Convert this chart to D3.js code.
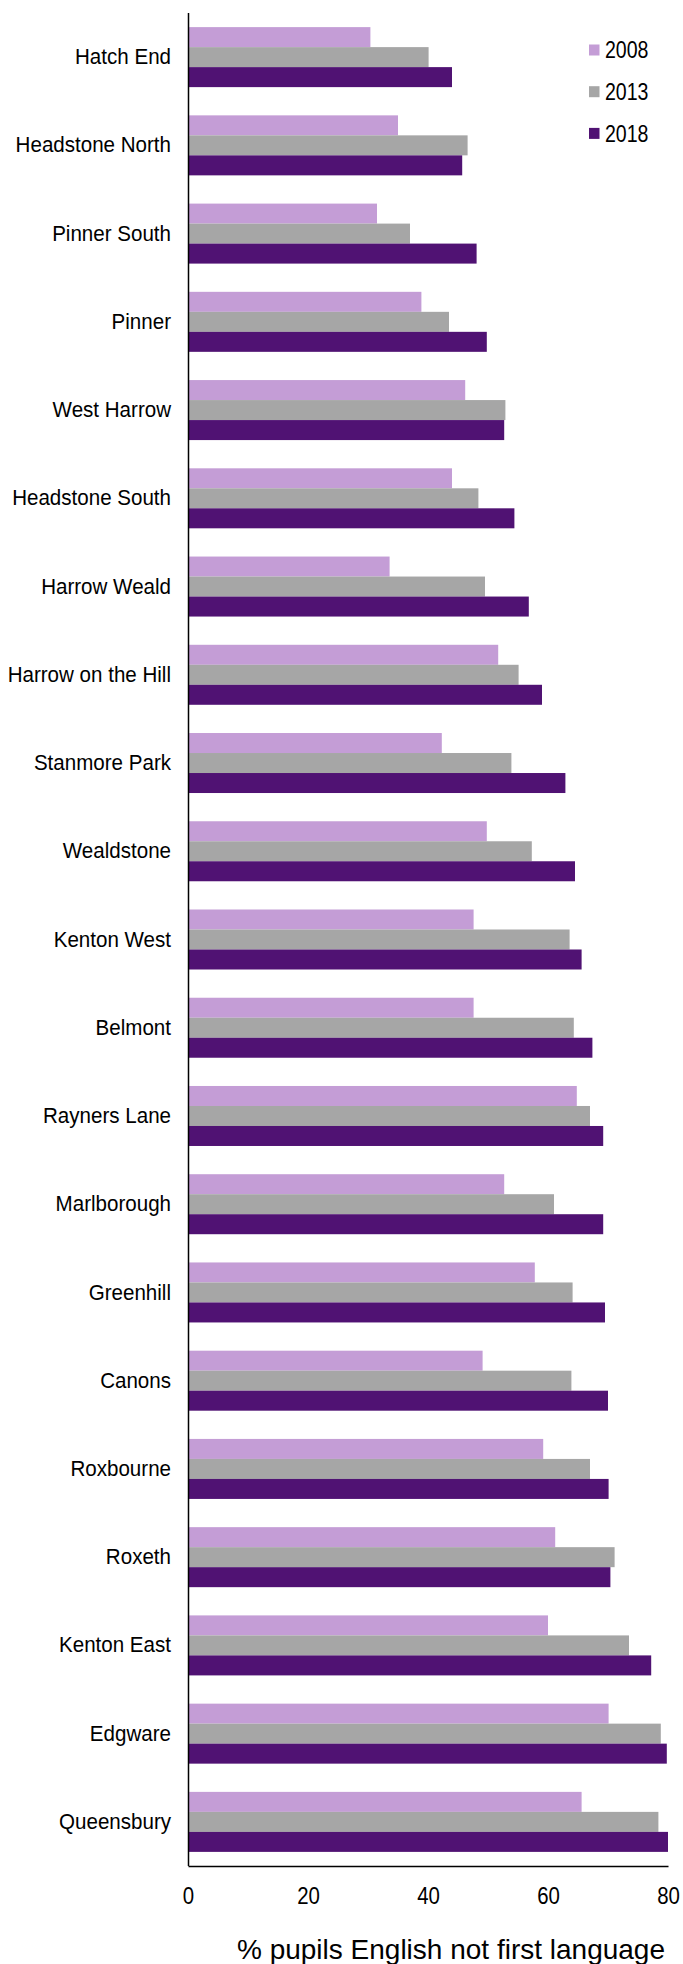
<!DOCTYPE html>
<html>
<head>
<meta charset="utf-8">
<script src="https://cdn.jsdelivr.net/npm/d3@7"></script>
<style>
  html, body { margin: 0; padding: 0; background: #ffffff; }
  svg { display: block; }
  text { font-family: "Liberation Sans", Arial, sans-serif; fill: #000; }
</style>
</head>
<body>
<svg id="chart" width="683" height="1964"></svg>
<script>
const categories = ["Hatch End","Headstone North","Pinner South","Pinner","West Harrow","Headstone South","Harrow Weald","Harrow on the Hill","Stanmore Park","Wealdstone","Kenton West","Belmont","Rayners Lane","Marlborough","Greenhill","Canons","Roxbourne","Roxeth","Kenton East","Edgware","Queensbury"];
const seriesNames = ["2008","2013","2018"];
const v2008 = [30.4,35.0,31.5,38.9,46.2,44.0,33.6,51.7,42.3,49.8,47.6,47.6,64.8,52.7,57.8,49.1,59.2,61.2,60.0,70.1,65.6];
const v2013 = [40.1,46.6,37.0,43.5,52.9,48.4,49.5,55.1,53.9,57.3,63.6,64.3,67.0,61.0,64.1,63.9,67.0,71.1,73.5,78.8,78.4];
const v2018 = [44.0,45.7,48.1,49.8,52.7,54.4,56.8,59.0,62.9,64.5,65.6,67.4,69.2,69.2,69.5,70.0,70.1,70.4,77.2,79.8,80.0];
const xTicks = [0,20,40,60,80];
const xTitle = "% pupils English not first language";
const colors = ["#C49DD6","#A6A6A6","#501273"];

const seriesValues = [v2008, v2013, v2018];
const rows = categories.map((c,i) => ({cat: c, vals: seriesNames.map((s,j) => ({s, v: seriesValues[j][i]}))}));

const svg = d3.select("#chart");
const mLeft = 188, mRight = 668, mTop = 13, mBottom = 1866;

const x = d3.scaleLinear().domain([0,80]).range([mLeft, mRight]);
const y = d3.scaleBand().domain(categories).range([mTop, mBottom]).paddingInner(0.32).paddingOuter(0.16);
const ys = d3.scaleBand().domain(seriesNames).range([0, y.bandwidth()]).padding(0);

const g = svg.append("g");
g.selectAll("g.grp").data(rows).join("g")
  .attr("class","grp")
  .attr("transform", d => `translate(0,${y(d.cat)})`)
  .selectAll("rect").data(d => d.vals).join("rect")
  .attr("x", x(0))
  .attr("y", d => ys(d.s))
  .attr("height", ys.bandwidth())
  .attr("width", d => x(Math.min(d.v, 80)) - x(0))
  .attr("fill", (d,i) => colors[i]);

// left axis (slightly condensed text as in the reference)
const catSx = 0.935, catPad = 17;
const yAxis = svg.append("g").attr("transform", `translate(${mLeft},0)`)
  .call(d3.axisLeft(y).tickSize(0).tickPadding(catPad));
yAxis.select(".domain").attr("stroke","#000").attr("stroke-width",1.5).attr("d", `M0.5,${mTop}V${mBottom}`);
yAxis.selectAll("text")
  .attr("font-size","22px")
  .attr("font-family","Liberation Sans, Arial, sans-serif")
  .attr("fill","#000")
  .attr("x", -catPad / catSx)
  .attr("transform", `scale(${catSx},1)`);

// bottom axis
const tickSx = 0.85;
const xAxis = svg.append("g").attr("transform", `translate(0,${mBottom})`)
  .call(d3.axisBottom(x).tickValues(xTicks).tickFormat(d3.format("d")).tickSize(0).tickPadding(21));
xAxis.select(".domain").attr("stroke","#000").attr("stroke-width",1.5);
xAxis.selectAll("text")
  .attr("font-size","24px")
  .attr("font-family","Liberation Sans, Arial, sans-serif")
  .attr("fill","#000")
  .attr("transform", `scale(${tickSx},1)`);

// axis title
svg.append("text")
  .attr("x", 665).attr("y", 1959)
  .attr("text-anchor","end")
  .attr("font-size","28px")
  .text(xTitle);

// legend
const legSx = 0.85;
const legend = svg.append("g").attr("transform","translate(589,50)");
const li = legend.selectAll("g").data(seriesNames).join("g")
  .attr("transform",(d,i)=>`translate(0,${i*41.7})`);
li.append("rect").attr("x",0).attr("y",-5.5).attr("width",10.5).attr("height",11).attr("fill",(d,i)=>colors[i]);
li.append("text").attr("x",16/legSx).attr("y",0).attr("dy","0.36em").attr("font-size","23px")
  .attr("transform",`scale(${legSx},1)`).text(d=>d);
</script>
</body>
</html>
